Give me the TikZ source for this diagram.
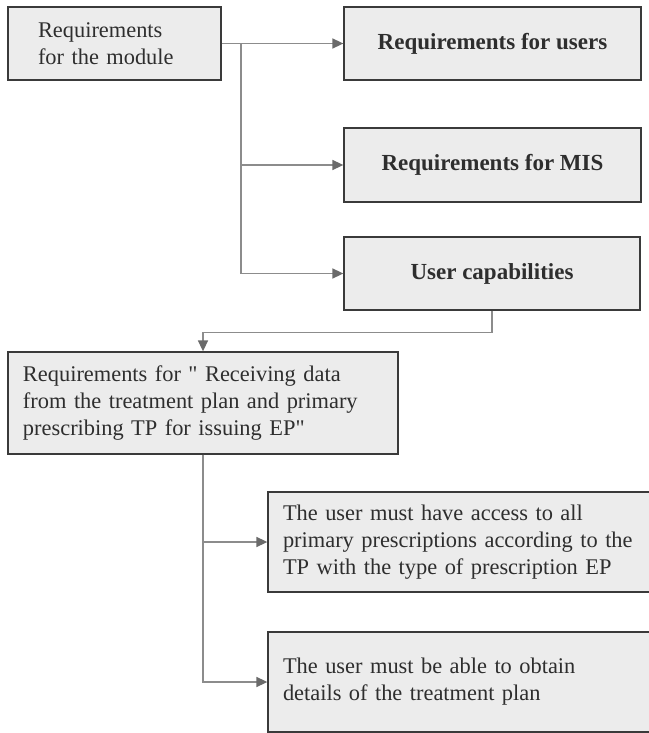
\documentclass[tikz,border=0pt]{standalone}
\usepackage{fontspec}
\setmainfont{Liberation Serif}
\usetikzlibrary{arrows.meta}
\definecolor{boxfill}{HTML}{ECECEC}
\definecolor{boxline}{HTML}{3A3A3A}
\definecolor{txt}{HTML}{2E2E2E}
\definecolor{conn}{HTML}{8C8C8C}
\definecolor{tipc}{HTML}{6A6A6A}
\tikzset{
  box/.style={draw=boxline, fill=boxfill, line width=1.3pt, rectangle, text=txt,
    font=\fontsize{22.4}{27}\selectfont, inner ysep=0pt},
  leftbox/.style={box, align=left},
  boldbox/.style={box, align=center, font=\fontsize{23}{27}\selectfont\bfseries},
  link/.style={draw=conn, line width=1.6pt, -{Triangle[length=11pt,width=10pt,color=tipc]}}
}
\begin{document}
\begin{tikzpicture}[x=1pt,y=-1pt]
\useasboundingbox (0,0) rectangle (648,733);
\node[leftbox, minimum width=213pt, minimum height=73pt, inner xsep=30pt, text width=153pt]
  (A) at (114.5,43.5) {\mbox{Requirements}\\\mbox{for the module}};
\node[boldbox, minimum width=297pt, minimum height=73pt] (B) at (492.5,43.5) {Requirements for users};
\node[boldbox, minimum width=297pt, minimum height=74pt] (C) at (492.5,165) {Requirements for MIS};
\node[boldbox, minimum width=296pt, minimum height=73pt] (D) at (492,273.5) {User capabilities};
\node[leftbox, minimum width=390pt, minimum height=102pt, inner xsep=15pt, text width=360pt]
  (E) at (203,403) {\mbox{Requirements for \textquotedbl{} Receiving data}\\\mbox{from the treatment plan and primary}\\\mbox{prescribing TP for issuing EP\textquotedbl}};
\node[leftbox, minimum width=382pt, minimum height=100pt, inner xsep=15pt, text width=352pt]
  (F) at (459,542) {\mbox{The user must have access to all}\\\mbox{primary prescriptions according to the}\\\mbox{TP with the type of prescription EP}};
\node[leftbox, minimum width=382pt, minimum height=100pt, inner xsep=15pt, text width=352pt]
  (G) at (459,682) {\mbox{The user must be able to obtain}\\\mbox{details of the treatment plan}};
\coordinate (j1) at (241,43.5);
\draw[link] (A.east) -- (B.west);
\draw[link] (j1) |- (C.west);
\draw[link] (j1) |- (D.west);
\draw[link] (D.south) -- ++(0,22) -| (E.north);
\draw[link] (E.south) |- (F.west);
\draw[link] (E.south) |- (G.west);
\end{tikzpicture}
\end{document}
